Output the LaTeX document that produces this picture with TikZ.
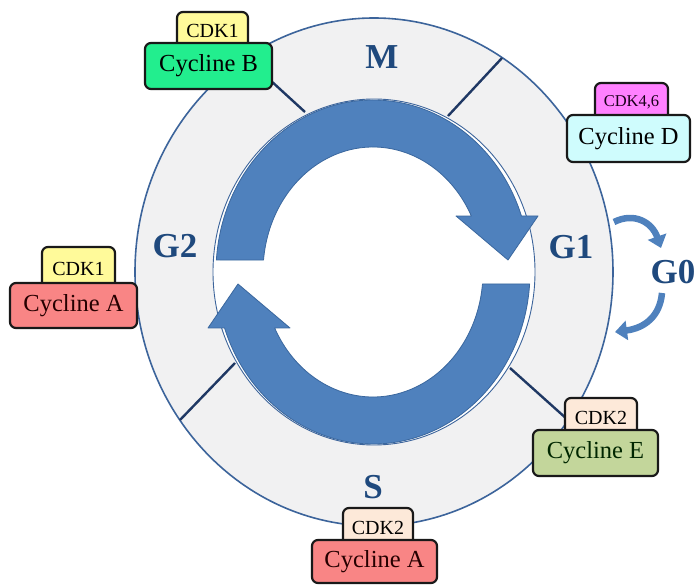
\documentclass[tikz,border=0pt]{standalone}
\usepackage{fontspec}
\setmainfont{Liberation Serif}
\usetikzlibrary{arrows.meta}
\definecolor{ringfill}{HTML}{F1F1F2}
\definecolor{ringline}{HTML}{3C649B}
\definecolor{divline}{HTML}{1F3864}
\definecolor{arrowblue}{HTML}{4F81BD}
\definecolor{arrowedge}{HTML}{3A679E}
\definecolor{labelblue}{HTML}{1F497D}
\definecolor{cdkyellow}{HTML}{FFFA9A}
\definecolor{cdkpink}{HTML}{FF80FF}
\definecolor{cdkpeach}{HTML}{FDE9D9}
\definecolor{cycgreen}{HTML}{22EE8E}
\definecolor{cyccyan}{HTML}{CFFCFD}
\definecolor{cycred}{HTML}{F98585}
\definecolor{cycolive}{HTML}{C3D69B}
\tikzset{
  boxbase/.style={draw=black!90, line width=2.2pt, rounded corners=6pt, inner sep=0pt, align=center},
  cdkbox/.style={boxbase, font=\fontsize{20}{22}\selectfont},
  cycbox/.style={boxbase, font=\fontsize{24.5}{26}\selectfont},
  phase/.style={font=\fontsize{35}{38}\selectfont\bfseries, text=labelblue, inner sep=0pt},
  bigarrow/.style={fill=arrowblue, draw=arrowedge, line width=0.8pt, line join=round},
  divider/.style={draw=divline, line width=2.4pt},
  smallarrow/.style={draw=arrowblue, line width=6.5pt, -{Triangle[width=19pt,length=12pt]}}
}
\begin{document}
\begin{tikzpicture}[x=1pt,y=-1pt]
\useasboundingbox (0,0) rectangle (697,585);
\fill[white] (0,0) rectangle (697,585);
% ring
\draw[fill=ringfill, draw=ringline, line width=1.6pt] (374,272) ellipse [x radius=239, y radius=254];
% dividers
\draw[divider] (305,112) -- (246,58);
\draw[divider] (448,116) -- (502,58);
\draw[divider] (235,363) -- (180,420);
\draw[divider] (510,368) -- (568,420);
% white disk
\draw[fill=white, draw=ringline, line width=0.9pt] (374,272) ellipse [x radius=161, y radius=173];
% big arrows
\draw[bigarrow, shift={(373,272)}] (184:157 and 172)
  arc[start angle=184, end angle=341, x radius=157, y radius=172]
  -- (165,-56) -- (135,-12) -- (83,-56) -- (333.4:110 and 125)
  arc[start angle=333.4, end angle=185.5, x radius=110, y radius=125] -- cycle;
\draw[bigarrow, shift={(373,272)}, rotate=180] (184:157 and 172)
  arc[start angle=184, end angle=341, x radius=157, y radius=172]
  -- (165,-56) -- (135,-12) -- (83,-56) -- (333.4:110 and 125)
  arc[start angle=333.4, end angle=185.5, x radius=110, y radius=125] -- cycle;
% phase labels
\node[phase] (M) at (382,57) {M};
\node[phase] (G1) at (571,247) {G1};
\node[phase] (G2) at (175,246) {G2};
\node[phase] (S) at (373,487) {S};
\node[phase] (G0) at (673,272) {G0};
% G0 arrows
\coordinate (g0a1) at (614,222);
\coordinate (g0a2) at (661,248);
\coordinate (g0b1) at (662,293);
\coordinate (g0b2) at (615,332);
\draw[smallarrow] (g0a1) .. controls (634,212) and (652,222) .. (g0a2);
\draw[smallarrow] (g0b1) .. controls (660,316) and (645,328) .. (g0b2);
% boxes
\node[cdkbox, fill=cdkyellow, minimum width=71pt, minimum height=38pt] (cdkB) at (212.5,31) {CDK1};
\node[cycbox, fill=cycgreen, minimum width=127pt, minimum height=46pt] (cycB) at (208.5,66) {Cycline B};
\node[cdkbox, fill=cdkpink, minimum width=73pt, minimum height=39pt, font=\fontsize{16.5}{18}\selectfont, text=black!80!violet] (cdkD) at (631.5,102.5) {CDK4,6};
\node[cycbox, fill=cyccyan, minimum width=123pt, minimum height=47pt] (cycD) at (628.5,138.5) {Cycline D};
\node[cdkbox, fill=cdkyellow, minimum width=73pt, minimum height=43pt] (cdkA) at (78.5,268.5) {CDK1};
\node[cycbox, fill=cycred, minimum width=127pt, minimum height=45pt, text=black!85!red] (cycA) at (73.5,305.5) {Cycline A};
\node[cdkbox, fill=cdkpeach, minimum width=72pt, minimum height=39pt] (cdkE) at (601,417.5) {CDK2};
\node[cycbox, fill=cycolive, minimum width=125pt, minimum height=46pt, text=black!85!green] (cycE) at (595.5,453) {Cycline E};
\node[cdkbox, fill=cdkpeach, minimum width=70pt, minimum height=39pt] (cdkS) at (378,527.5) {CDK2};
\node[cycbox, fill=cycred, minimum width=125pt, minimum height=43pt, text=black!85!red] (cycS) at (374.5,561.5) {Cycline A};
\end{tikzpicture}
\end{document}
